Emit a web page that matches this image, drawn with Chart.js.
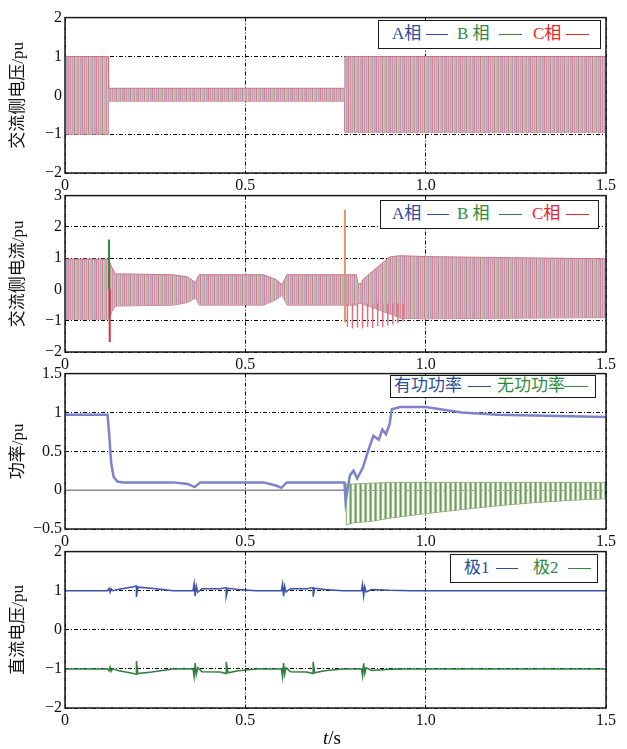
<!DOCTYPE html>
<html>
<head>
<meta charset="utf-8">
<script src="https://cdn.jsdelivr.net/npm/chart.js@4.4.0/dist/chart.umd.min.js"></script>
<style>
  body { margin: 0; background: #fff; width: 627px; height: 749px; position: relative; overflow: hidden;
         font-family: "Liberation Serif", "Noto Sans CJK SC", serif; }
  canvas { position: absolute; left: 0; }
  .lg { position: absolute; background: #fff; border: 1.5px solid #1a1a1a; box-sizing: border-box; }
  .lg .tx { position: absolute; top: 3px; font-size: 17px; line-height: 20px; white-space: nowrap; }
  .lg .ln { position: absolute; top: 13px; height: 0; border-top: 1.5px solid; }
  .b { color: #2b4c9b; } .g { color: #2e8b3e; } .r { color: #e8262a; }
  #xt { position: absolute; left: 323px; top: 727px; font-size: 19px; }
</style>
</head>
<body>
<canvas id="c1" width="627" height="190" style="top:5px"></canvas>
<canvas id="c2" width="627" height="191" style="top:183px"></canvas>
<canvas id="c3" width="627" height="190" style="top:361px"></canvas>
<canvas id="c4" width="627" height="191" style="top:539px"></canvas>

<div class="lg" style="left:378px;top:20px;width:223px;height:29px">
  <span class="tx b" style="left:13px">A相</span><span class="ln b" style="left:47px;width:22px"></span>
  <span class="tx g" style="left:78px">B 相</span><span class="ln g" style="left:120px;width:23px"></span>
  <span class="tx r" style="left:154px">C相</span><span class="ln r" style="left:187px;width:23px"></span>
</div>
<div class="lg" style="left:380px;top:200px;width:219px;height:29px">
  <span class="tx b" style="left:11px">A相</span><span class="ln b" style="left:46px;width:22px"></span>
  <span class="tx g" style="left:76px">B 相</span><span class="ln g" style="left:118px;width:23px"></span>
  <span class="tx r" style="left:151px">C相</span><span class="ln r" style="left:185px;width:23px"></span>
</div>
<div class="lg" style="left:390px;top:375px;width:206px;height:23px">
  <span class="tx b" style="left:3px;top:0">有功功率</span><span class="ln b" style="left:77px;width:23px;top:10px"></span>
  <span class="tx g" style="left:106px;top:0">无功功率</span><span class="ln g" style="left:173px;width:24px;top:10px"></span>
</div>
<div class="lg" style="left:450px;top:554px;width:148px;height:29px">
  <span class="tx b" style="left:13px">极1</span><span class="ln b" style="left:45px;width:22px"></span>
  <span class="tx g" style="left:82px">极2</span><span class="ln g" style="left:117px;width:23px"></span>
</div>
<div id="xt"><i>t</i>/s</div>

<script>
// x axis
const xTicks = [0, 0.5, 1, 1.5];

// 交流侧电压 (envelope of the three phases)
const tVac = [0, 0.12, 0.121, 0.775, 0.776, 1.5];
const vacUp = [1, 1, 0.18, 0.18, 1, 1];
const vacLo = [-1, -1, -0.15, -0.15, -0.95, -0.95];

// 交流侧电流 (envelope)
const tIac = [0, 0.12, 0.123, 0.13, 0.14, 0.3, 0.34, 0.362, 0.372, 0.55, 0.585, 0.602, 0.615, 0.78, 0.808, 0.812, 0.822, 0.826, 0.9, 0.93, 1.0, 1.2, 1.5];
const iacUp = [0.97, 0.97, 0.9, 0.7, 0.5, 0.47, 0.4, 0.22, 0.47, 0.47, 0.32, 0.15, 0.47, 0.47, 0.47, 0.18, 0.18, 0.32, 1.04, 1.08, 1.05, 1.02, 0.98];
const iacLo = [-0.95, -0.95, -0.9, -0.7, -0.53, -0.5, -0.42, -0.27, -0.5, -0.5, -0.33, -0.18, -0.5, -0.5, -0.5, -0.45, -0.45, -0.47, -0.78, -0.92, -0.94, -0.92, -0.9];
// current spikes: B (green), C (red), switching (orange)
const spikeT = [0.122, 0.124, 0.776];
const spikeLo = [0, -1.68, -1.05];
const spikeHi = [1.6, 0, 2.55];
// red dips under the band after 0.78 s
const combT = [0.783, 0.797, 0.811, 0.825, 0.839, 0.853, 0.867, 0.881, 0.895, 0.909, 0.923, 0.937];
const combLo = [-1.2, -1.25, -1.22, -1.25, -1.2, -1.23, -1.18, -1.2, -1.15, -1.12, -1.08, -1.02];

// 功率
const tP = [0, 0.118, 0.122, 0.128, 0.135, 0.145, 0.16, 0.3, 0.34, 0.36, 0.375, 0.55, 0.585, 0.6, 0.615, 0.775, 0.778, 0.79, 0.8, 0.81, 0.826, 0.84, 0.855, 0.87, 0.88, 0.89, 0.9, 0.906, 0.93, 1.0, 1.1, 1.2, 1.3, 1.4, 1.5];
const pActive = [0.97, 0.97, 0.75, 0.35, 0.17, 0.11, 0.1, 0.1, 0.08, 0.04, 0.1, 0.1, 0.06, 0.03, 0.1, 0.1, -0.15, 0.19, 0.25, 0.15, 0.29, 0.5, 0.7, 0.65, 0.78, 0.72, 0.85, 1.04, 1.07, 1.07, 1.0, 0.97, 0.96, 0.95, 0.94];
const tQ0 = [0, 0.776];
const qBase = [0, 0];
const tQ = [0.778, 0.8, 0.85, 0.9, 1.0, 1.1, 1.2, 1.3, 1.4, 1.5];
const qUp = [0.08, 0.08, 0.09, 0.1, 0.1, 0.1, 0.1, 0.1, 0.1, 0.1];
const qLo = [-0.45, -0.42, -0.4, -0.36, -0.3, -0.25, -0.2, -0.16, -0.13, -0.11];

// 直流电压
const tDc = [0, 0.118, 0.122, 0.125, 0.128, 0.132, 0.15, 0.19, 0.198, 0.198, 0.202, 0.24, 0.3, 0.355, 0.358, 0.361, 0.364, 0.368, 0.38, 0.43, 0.447, 0.447, 0.452, 0.48, 0.53, 0.6, 0.603, 0.606, 0.609, 0.613, 0.625, 0.67, 0.688, 0.688, 0.692, 0.72, 0.77, 0.822, 0.825, 0.828, 0.831, 0.835, 0.85, 0.9, 0.96, 1.5];
const pole1 = [1, 1, 1.06, 0.96, 1.05, 1.0, 1.04, 1.1, 1.12, 0.84, 1.09, 1.06, 1.0, 1.0, 1.18, 0.86, 1.12, 0.96, 1.05, 1.05, 1.08, 0.85, 1.06, 1.03, 1.0, 1.0, 1.17, 0.86, 1.12, 0.97, 1.05, 1.05, 1.08, 0.85, 1.06, 1.03, 1.0, 1.0, 1.16, 0.87, 1.1, 0.97, 1.03, 1.01, 1.0, 1.0];
const pole2 = [-1, -1, -1.05, -0.95, -1.06, -1.0, -1.05, -1.12, -1.14, -0.8, -1.12, -1.08, -1.0, -1.0, -1.2, -0.85, -1.15, -0.97, -1.07, -1.08, -1.12, -0.82, -1.1, -1.05, -1.0, -1.0, -1.2, -0.85, -1.14, -0.97, -1.07, -1.08, -1.12, -0.82, -1.1, -1.05, -1.0, -1.0, -1.18, -0.86, -1.12, -0.97, -1.04, -1.01, -1.0, -1.0];

// y ticks per panel
const yTicks1 = [-2, -1, 0, 1, 2];
const yTicks2 = [-2, -1, 0, 1, 2, 3];
const yTicks3 = [-0.5, 0, 0.5, 1, 1.5];
const yTicks4 = [-2, -1, 0, 1, 2];

const serif = '"Liberation Serif", "Noto Sans CJK SC", serif';

function pts(t, v) { return t.map((x, i) => ({ x: x, y: v[i] })); }
function vlines(t, lo, hi) {
  const out = [];
  t.forEach((x, i) => { out.push({ x: x, y: lo[i] }, { x: x, y: hi[i] }, { x: x, y: null }); });
  return out;
}
function stripes(id, cols) {
  const c = document.createElement('canvas');
  c.width = cols.length; c.height = 2;
  const g = c.getContext('2d');
  cols.forEach((col, i) => { g.fillStyle = col; g.fillRect(i, 0, 1, 2); });
  return document.getElementById(id).getContext('2d').createPattern(c, 'repeat');
}

const acCols = ['#d6909c', '#e4b2ba', '#b0a6c6', '#e6b4bc', '#d27c8a', '#e8b8bf', '#aebfa8',
                '#e0a8b1', '#d48a98', '#e9bcc3', '#a2a8c8', '#dfa4ae', '#d68492', '#e6b6bd'];
const qCols = ['#6d9a5e', '#9cbc8c', 'rgba(236,243,226,0.6)', 'rgba(236,243,226,0.6)', '#b0c9a2'];

const frame = {
  id: 'frame',
  afterDraw(c) {
    const a = c.chartArea, ctx = c.ctx;
    ctx.save();
    ctx.strokeStyle = '#1a1a1a';
    ctx.lineWidth = 1.5;
    ctx.strokeRect(a.left, a.top, a.right - a.left, a.bottom - a.top);
    ctx.restore();
  }
};

function makeChart(id, yTicks, yTitle, datasets) {
  return new Chart(document.getElementById(id), {
    type: 'line',
    data: { datasets: datasets },
    options: {
      responsive: false,
      animation: false,
      devicePixelRatio: 1,
      layout: { padding: { top: 10, right: 21, left: 0, bottom: 0 } },
      plugins: { legend: { display: false }, tooltip: { enabled: false } },
      elements: { point: { radius: 0 }, line: { tension: 0 } },
      scales: {
        x: {
          type: 'linear', min: 0, max: 1.5, z: 1,
          afterBuildTicks: s => { s.ticks = xTicks.map(v => ({ value: v })); },
          afterFit: s => { s.height = 22; },
          ticks: { padding: 3, maxRotation: 0, color: '#111', font: { family: serif, size: 16 } },
          grid: { color: '#000', lineWidth: 1, drawTicks: false },
          border: { display: false, dash: [4, 2, 1, 2] }
        },
        y: {
          type: 'linear', min: yTicks[0], max: yTicks[yTicks.length - 1], z: 1,
          afterBuildTicks: s => { s.ticks = yTicks.map(v => ({ value: v })); },
          afterFit: s => { s.width = 65; },
          ticks: { padding: 3, color: '#111', font: { family: serif, size: 16 },
                   callback: v => String(v).replace('-', '\u2212') },
          grid: { color: '#000', lineWidth: 1, drawTicks: false },
          border: { display: false, dash: [4, 2, 1, 2] },
          title: { display: true, text: yTitle, color: '#111', font: { family: serif, size: 17 },
                   padding: { top: 8, bottom: 0 } }
        }
      }
    },
    plugins: [frame]
  });
}

const acPat1 = stripes('c1', acCols);
const acPat2 = stripes('c2', acCols);
const qPat = stripes('c3', qCols);

makeChart('c1', yTicks1, '交流侧电压/pu', [
  { data: pts(tVac, vacUp), borderColor: '#c87888', borderWidth: 1, backgroundColor: acPat1, fill: '+1', order: 5 },
  { data: pts(tVac, vacLo), borderColor: '#c87888', borderWidth: 1, fill: false, order: 5 }
]);

makeChart('c2', yTicks2, '交流侧电流/pu', [
  { data: pts(tIac, iacUp), borderColor: '#c87888', borderWidth: 1, backgroundColor: acPat2, fill: '+1', order: 5 },
  { data: pts(tIac, iacLo), borderColor: '#c87888', borderWidth: 1, fill: false, order: 5 },
  { data: vlines(combT, combLo, combT.map(() => -0.45)), borderColor: '#e0707c', borderWidth: 1.5, fill: false, order: 3 },
  { data: vlines(spikeT.slice(0, 1), spikeLo.slice(0, 1), spikeHi.slice(0, 1)), borderColor: '#2f8a48', borderWidth: 2, fill: false, order: 1 },
  { data: vlines(spikeT.slice(1, 2), spikeLo.slice(1, 2), spikeHi.slice(1, 2)), borderColor: '#d8303c', borderWidth: 2, fill: false, order: 1 },
  { data: vlines(spikeT.slice(2, 3), spikeLo.slice(2, 3), spikeHi.slice(2, 3)), borderColor: '#e0946a', borderWidth: 2, fill: false, order: 1 }
]);

makeChart('c3', yTicks3, '功率/pu', [
  { data: pts(tQ, qUp), borderColor: '#8fb07e', borderWidth: 1, backgroundColor: qPat, fill: '+1', order: 5 },
  { data: pts(tQ, qLo), borderColor: '#7f9f6e', borderWidth: 1, fill: false, order: 5 },
  { data: pts(tQ0, qBase), borderColor: '#8a8a8a', borderWidth: 1.5, fill: false, order: 4 },
  { data: pts(tP, pActive), borderColor: '#7d82cc', borderWidth: 2.5, fill: false, order: 1 }
]);

makeChart('c4', yTicks4, '直流电压/pu', [
  { data: pts(tDc, pole1), borderColor: '#3a52a8', borderWidth: 1.5, fill: false, order: 1 },
  { data: pts(tDc, pole2), borderColor: '#2f7d3f', borderWidth: 1.5, fill: false, order: 1 }
]);
</script>
</body>
</html>
